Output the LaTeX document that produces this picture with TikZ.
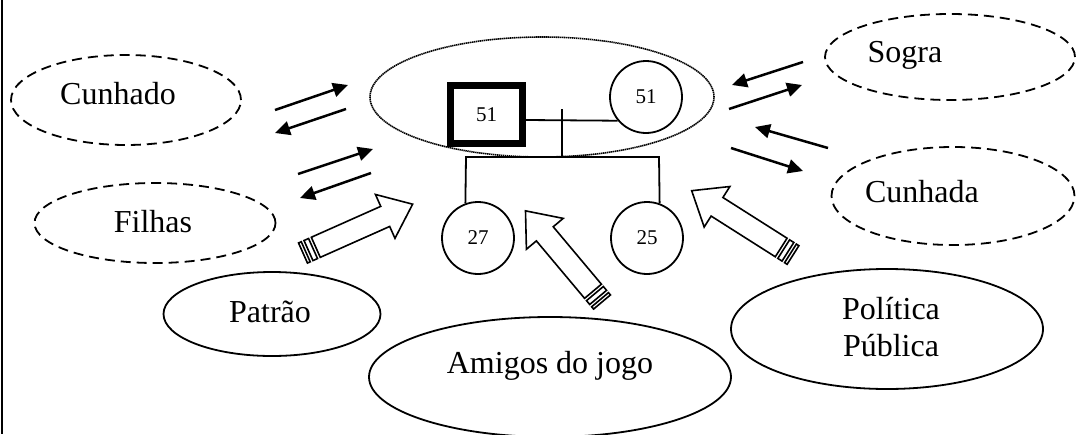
\documentclass[tikz,border=0pt]{standalone}
\usepackage{fontspec}
\setmainfont{Liberation Serif}
\usetikzlibrary{arrows.meta,shapes.geometric,calc}
\tikzset{
  dashedell/.style={ellipse,draw,line width=1.8pt,dash pattern=on 10pt off 6pt,inner sep=0pt},
  solidell/.style={ellipse,draw,line width=1.8pt,inner sep=0pt},
  bigtext/.style={font=\fontsize{32}{37}\selectfont,inner sep=0pt},
  person/.style={circle,draw,line width=1.8pt,minimum size=72pt,inner sep=0pt,font=\fontsize{21}{23}\selectfont},
  kin/.style={line width=1.8pt},
  thinarrow/.style={line width=2.5pt,-{Triangle[length=15pt,width=14pt]}},
  blockline/.style={draw,line width=1.6pt,fill=white,line join=miter},
  pics/striped/.style={code={
    \path[blockline] (0,-11) rectangle (3,11);
    \path[blockline] (6,-11) rectangle (11,11);
    \path[blockline] (14,-11) -- ({#1-30},-11) -- ({#1-30},-24) -- (#1,0) -- ({#1-30},24) -- ({#1-30},11) -- (14,11) -- cycle;
  }}
}
\begin{document}
\begin{tikzpicture}[x=1pt,y=-1pt]
\useasboundingbox (0,0) rectangle (1081,434);
\draw[line width=1.5pt] (2,0) -- (2,434);

% outer ellipses
\node[dashedell,minimum width=230pt,minimum height=90pt] (cunhado) at (126,100) {};
\node[bigtext] (tcunhado) at (118,94) {Cunhado};
\node[dashedell,minimum width=241pt,minimum height=80pt] (filhas) at (155,223) {};
\node[bigtext] (tfilhas) at (153,222) {Filhas};
\node[solidell,minimum width=217pt,minimum height=84pt] (patrao) at (272,314) {};
\node[bigtext] (tpatrao) at (270,312) {Patrão};
\node[solidell,minimum width=362pt,minimum height=120pt] (amigos) at (550,377) {};
\node[bigtext,anchor=base] (tamigos) at (550,373) {Amigos do jogo};
\node[solidell,minimum width=312pt,minimum height=120pt] (politica) at (887,329) {};
\node[bigtext,align=center] (tpolitica) at (891,327) {Política\\Pública};
\node[dashedell,minimum width=250pt,minimum height=86pt] (sogra) at (950,57) {};
\node[bigtext] (tsogra) at (905,55) {Sogra};
\node[dashedell,minimum width=243pt,minimum height=98pt] (cunhada) at (953,196) {};
\node[bigtext] (tcunhada) at (922,192) {Cunhada};

% central family
\node[ellipse,draw,line width=1.6pt,dash pattern=on 1.4pt off 0.6pt,minimum width=344pt,minimum height=120pt,inner sep=0pt] (familia) at (542,97) {};
\node[rectangle,draw,line width=7pt,minimum width=72pt,minimum height=58pt,inner sep=0pt,font=\fontsize{21}{23}\selectfont] (pai) at (486.5,114.5) {51};
\node[person] (mae) at (646,97) {51};
\node[person] (f27) at (478,238) {27};
\node[person] (f25) at (647,238) {25};
\coordinate (mm) at (562,120);
\coordinate (ds) at (562,109);
\coordinate (sb) at (562,157);
\coordinate (sl) at (466,157);
\coordinate (sr) at (659,157);
\draw[kin] (pai.east |- mm) -- (mae.220);
\draw[kin] (ds) -- (sb);
\draw[kin] (f27.110) -- (sl) -- (sr) -- (f25.70);

% thin arrows left
\coordinate (a1s) at (275,110); \coordinate (a1e) at (348,85);
\coordinate (a2s) at (346,109); \coordinate (a2e) at (275,133);
\coordinate (a3s) at (298,174); \coordinate (a3e) at (373,149);
\coordinate (a4s) at (371,173); \coordinate (a4e) at (300,198);
\draw[thinarrow] (a1s) -- (a1e);
\draw[thinarrow] (a2s) -- (a2e);
\draw[thinarrow] (a3s) -- (a3e);
\draw[thinarrow] (a4s) -- (a4e);
% thin arrows right
\coordinate (b1s) at (803,62); \coordinate (b1e) at (732,85);
\coordinate (b2s) at (729,109); \coordinate (b2e) at (802,85);
\coordinate (b3s) at (828,148); \coordinate (b3e) at (755,127);
\coordinate (b4s) at (731,148); \coordinate (b4e) at (803,171);
\draw[thinarrow] (b1s) -- (b1e);
\draw[thinarrow] (b2s) -- (b2e);
\draw[thinarrow] (b3s) -- (b3e);
\draw[thinarrow] (b4s) -- (b4e);

% striped block arrows
\pic[rotate=24] at (303,253) {striped=120};
\pic[rotate=130] at (602,302) {striped=119};
\pic[rotate=147.6] at (793,255) {striped=120};
\end{tikzpicture}
\end{document}
